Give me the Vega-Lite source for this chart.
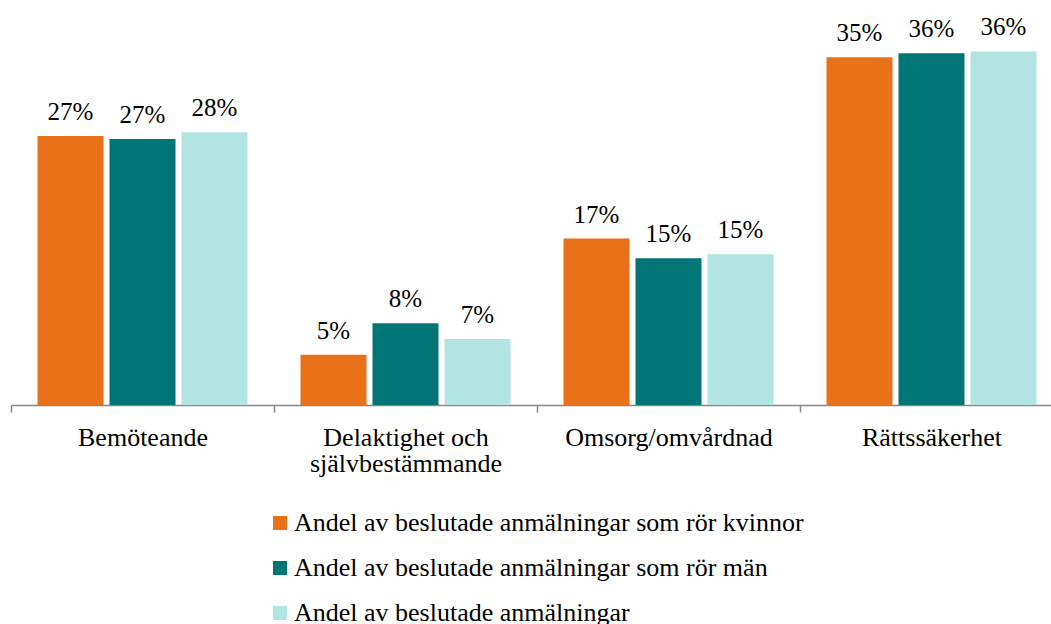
{
  "$schema": "https://vega.github.io/schema/vega-lite/v6.json",
  "autosize": "none",
  "width": 1040,
  "height": 394,
  "padding": {"left": 11, "top": 11, "right": 0, "bottom": 219},
  "background": "white",
  "config": {
    "font": "Times New Roman",
    "view": {"stroke": null}
  },
  "data": {
    "values": [
      {"category": "Bemöteande", "series": "Andel av beslutade anmälningar som rör kvinnor", "value": 0.273},
      {"category": "Bemöteande", "series": "Andel av beslutade anmälningar som rör män", "value": 0.270},
      {"category": "Bemöteande", "series": "Andel av beslutade anmälningar", "value": 0.277},
      {"category": "Delaktighet och självbestämmande", "series": "Andel av beslutade anmälningar som rör kvinnor", "value": 0.051},
      {"category": "Delaktighet och självbestämmande", "series": "Andel av beslutade anmälningar som rör män", "value": 0.083},
      {"category": "Delaktighet och självbestämmande", "series": "Andel av beslutade anmälningar", "value": 0.067},
      {"category": "Omsorg/omvårdnad", "series": "Andel av beslutade anmälningar som rör kvinnor", "value": 0.169},
      {"category": "Omsorg/omvårdnad", "series": "Andel av beslutade anmälningar som rör män", "value": 0.149},
      {"category": "Omsorg/omvårdnad", "series": "Andel av beslutade anmälningar", "value": 0.153},
      {"category": "Rättssäkerhet", "series": "Andel av beslutade anmälningar som rör kvinnor", "value": 0.353},
      {"category": "Rättssäkerhet", "series": "Andel av beslutade anmälningar som rör män", "value": 0.357},
      {"category": "Rättssäkerhet", "series": "Andel av beslutade anmälningar", "value": 0.359}
    ]
  },
  "encoding": {
    "x": {
      "field": "category",
      "type": "nominal",
      "sort": ["Bemöteande", "Delaktighet och självbestämmande", "Omsorg/omvårdnad", "Rättssäkerhet"],
      "scale": {"range": [0, 1052], "paddingInner": 0, "paddingOuter": 0},
      "axis": {
        "title": null,
        "labelAngle": 0,
        "labelFont": "Times New Roman",
        "labelFontSize": 26,
        "labelColor": "#000000",
        "labelPadding": 12,
        "labelLineHeight": 26,
        "labelLimit": 0,
        "labelExpr": "datum.label == 'Delaktighet och självbestämmande' ? ['Delaktighet och', 'självbestämmande'] : datum.label",
        "tickBand": "extent",
        "tickSize": 7,
        "tickColor": "#888888",
        "tickWidth": 1.5,
        "domainColor": "#888888",
        "domainWidth": 1.5,
        "grid": false
      }
    },
    "xOffset": {
      "field": "series",
      "type": "nominal",
      "sort": ["Andel av beslutade anmälningar som rör kvinnor", "Andel av beslutade anmälningar som rör män", "Andel av beslutade anmälningar"],
      "scale": {"paddingInner": 0.0833, "paddingOuter": 0.368}
    },
    "y": {
      "field": "value",
      "type": "quantitative",
      "scale": {"domain": [0, 0.4], "nice": false},
      "axis": null
    }
  },
  "layer": [
    {
      "mark": {"type": "bar"},
      "encoding": {
        "color": {
          "field": "series",
          "type": "nominal",
          "sort": ["Andel av beslutade anmälningar som rör kvinnor", "Andel av beslutade anmälningar som rör män", "Andel av beslutade anmälningar"],
          "scale": {
            "domain": ["Andel av beslutade anmälningar som rör kvinnor", "Andel av beslutade anmälningar som rör män", "Andel av beslutade anmälningar"],
            "range": ["#E8711A", "#007575", "#B2E4E2"]
          },
          "legend": {
            "title": null,
            "orient": "none",
            "legendX": 256,
            "legendY": 499,
            "direction": "vertical",
            "symbolType": "square",
            "symbolSize": 196,
            "symbolStrokeWidth": 0,
            "symbolOpacity": 1,
            "labelFont": "Times New Roman",
            "labelFontSize": 26,
            "labelColor": "#000000",
            "labelOffset": 1,
            "labelLimit": 0,
            "rowPadding": 19,
            "padding": 0
          }
        }
      }
    },
    {
      "mark": {"type": "text", "baseline": "alphabetic", "dy": -16, "fontSize": 25, "color": "#000000", "font": "Times New Roman"},
      "encoding": {
        "text": {"field": "value", "type": "quantitative", "format": ".0%"}
      }
    }
  ]
}
